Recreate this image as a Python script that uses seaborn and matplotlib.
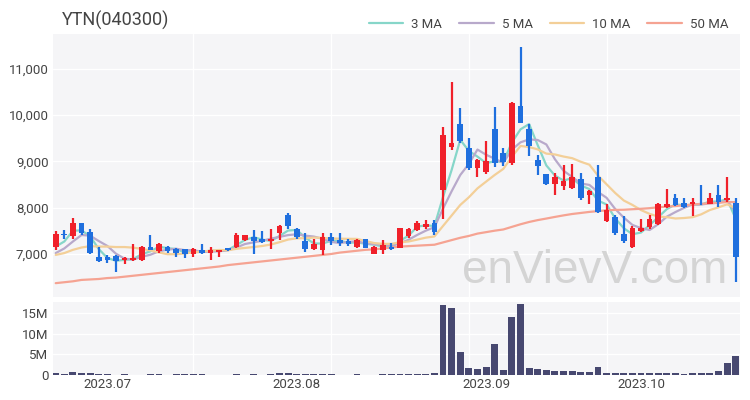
import numpy as np
import pandas as pd
import matplotlib
matplotlib.use("Agg")
import matplotlib.pyplot as plt
import seaborn as sns

# ---------------- data ----------------
opens = [7160, 7430, 7380, 7660, 7470, 6930, 6930, 6950, 6860, 6860,
         6860, 7160, 7070, 7160, 7100, 7100, 7000, 7090, 7030, 7040,
         7120, 7160, 7300, 7360, 7320, 7270, 7450, 7840, 7530, 7290,
         7100, 7090, 7360, 7300, 7290, 7160, 7320, 7000, 7090, 7160,
         7140, 7380, 7520, 7590, 7680, 8380, 9320, 9800, 9280, 8850,
         8780, 9690, 9190, 8960, 10200, 9690, 9030, 8730, 8510, 8470,
         8420, 8610, 8270, 8670, 7720, 7790, 7430, 7160, 7500, 7580,
         7650, 8010, 8200, 8110, 8090, 8090, 8090, 8270, 8170, 8110]
highs = [7490, 7520, 7770, 7680, 7530, 7160, 6980, 6980, 6930, 7220,
         7170, 7410, 7240, 7170, 7140, 7110, 7130, 7220, 7160, 7090,
         7140, 7450, 7420, 7520, 7500, 7530, 7620, 7890, 7560, 7460,
         7320, 7450, 7460, 7460, 7330, 7330, 7330, 7170, 7300, 7240,
         7570, 7570, 7720, 7730, 7730, 9740, 10720, 10150, 9500, 9050,
         9450, 10170, 9280, 10280, 11480, 9810, 9140, 8730, 8740, 8920,
         8940, 8760, 8380, 8920, 8090, 7840, 7810, 7610, 7750, 7840,
         8100, 8400, 8300, 8210, 8220, 8490, 8320, 8490, 8670, 8200]
lows = [7090, 7320, 7330, 7420, 7000, 6830, 6810, 6620, 6790, 6850,
        6850, 7080, 7030, 7030, 6940, 6910, 6940, 7000, 6860, 6940,
        7070, 7130, 7290, 7000, 7230, 7100, 7300, 7530, 7320, 7050,
        7090, 6980, 7190, 7180, 7180, 7130, 7130, 6990, 7000, 7090,
        7130, 7350, 7500, 7530, 7410, 7750, 9250, 9390, 8810, 8670,
        8730, 8870, 8890, 8920, 9820, 9120, 8710, 8490, 8270, 8380,
        8400, 8170, 8080, 7890, 7700, 7410, 7240, 7130, 7480, 7530,
        7620, 7990, 8040, 7990, 7810, 8060, 8080, 8020, 8130, 6400]
closes = [7430, 7400, 7680, 7450, 7020, 6850, 6870, 6840, 6910, 6920,
          7160, 7090, 7220, 7070, 7030, 7000, 7100, 7030, 7090, 7080,
          7090, 7410, 7410, 7270, 7250, 7320, 7600, 7600, 7360, 7100,
          7220, 7360, 7270, 7230, 7220, 7300, 7140, 7160, 7190, 7100,
          7560, 7530, 7680, 7650, 7480, 9570, 9400, 9430, 8850, 9030,
          9010, 8970, 8990, 10270, 9820, 9330, 8900, 8510, 8670, 8580,
          8660, 8200, 8350, 7910, 7950, 7450, 7270, 7560, 7560, 7750,
          8080, 8080, 8060, 8010, 8130, 8070, 8200, 8130, 8220, 6930]
volumes_m = [0.4, 0.3, 0.75, 0.4, 0.45, 0.25, 0.15, 0.1, 0.2, 0.1,
             0.1, 0.15, 0.15, 0.1, 0.15, 0.2, 0.2, 0.15, 0.1, 0.1,
             0.1, 0.15, 0.1, 0.15, 0.1, 0.3, 0.45, 0.6, 0.3, 0.2,
             0.15, 0.25, 0.2, 0.1, 0.1, 0.15, 0.1, 0.1, 0.2, 0.2,
             0.2, 0.15, 0.25, 0.2, 0.45, 17.0, 16.3, 5.6, 1.6, 1.5,
             1.9, 7.4, 1.1, 14.1, 17.2, 1.6, 1.4, 1.2, 1.05, 0.9,
             0.85, 0.7, 0.7, 2.0, 0.6, 0.55, 0.45, 0.45, 0.4, 0.4,
             0.45, 0.5, 0.45, 0.35, 0.4, 0.6, 0.45, 0.9, 2.8, 4.6]

# moving-average values at the left edge (history before the window is not shown)
ma3_head = [7160, 7270]
ma5_head = [7020, 7120, 7270, 7410]
ma10_head = [6980, 7020, 7090, 7140, 7170, 7160, 7160, 7150, 7150]
ma50_head = [6370, 6390, 6410, 6440, 6450, 6460, 6480, 6490, 6510, 6530,
             6550, 6570, 6590, 6610, 6630, 6650, 6670, 6690, 6710, 6730,
             6760, 6780, 6800, 6820, 6840, 6860, 6880, 6900, 6920, 6940,
             6960, 6980, 7000, 7030, 7050, 7070, 7090, 7100, 7120, 7140,
             7160, 7170, 7180, 7190, 7200, 7250, 7300, 7350, 7390]

ma_labels = ["3 MA", "5 MA", "10 MA", "50 MA"]
tick_pos = [6, 28, 50, 68]
tick_labels = ["2023.07", "2023.08", "2023.09", "2023.10"]
title = "YTN(040300)"
watermark = "enVievV.com"

# ---------------- styling ----------------
sns.set_theme(style="white")
plt.rcParams["font.family"] = ["Roboto", "DejaVu Sans"]

RED = "#f0202a"
BLUE = "#1f6fde"
VOLC = "#474870"
BG = "#f5f5f7"
MA_COLORS = ["#86d6c9", "#b8a9cb", "#f3cf98", "#f5a392"]
TXT = "#444444"

n = len(closes)
idx = np.arange(n)
df = pd.DataFrame({"i": idx, "open": opens, "high": highs, "low": lows,
                   "close": closes, "vol": np.array(volumes_m) * 1e6})

def ma(window, head):
    s = df["close"].rolling(window).mean().to_numpy().copy()
    s[:len(head)] = head
    return s

ma_df = pd.concat([
    pd.DataFrame({"i": idx, "value": ma(w, h), "series": lab})
    for w, h, lab in zip([3, 5, 10, 50], [ma3_head, ma5_head, ma10_head, ma50_head], ma_labels)
])

fig = plt.figure(figsize=(7.5, 4.0), dpi=100)
W, H = 750, 400
L, R = 52.7, 740
ax = fig.add_axes([L / W, 1 - 297 / H, (R - L) / W, (297 - 34) / H])
vax = fig.add_axes([L / W, 1 - 375 / H, (R - L) / W, (375 - 302) / H])

for a in (ax, vax):
    a.set_facecolor(BG)
    for s in a.spines.values():
        s.set_visible(False)
    a.tick_params(length=0, labelsize=9.5, labelcolor=TXT, pad=3)
    a.set_axisbelow(True)
    for g in [16, 32, 48, 64]:
        a.axvline(g, color="white", lw=1.0, zorder=0)

# watermark (behind the marks)
ax.text(0.981, 0.053, watermark, transform=ax.transAxes, ha="right", va="baseline",
        fontsize=33, color="#d4d4d4", family=["Liberation Sans", "DejaVu Sans"], zorder=1)

# MA lines
sns.lineplot(data=ma_df, x="i", y="value", hue="series", hue_order=ma_labels,
             palette=MA_COLORS, linewidth=1.6, ax=ax, legend=False, zorder=2)

# candles
up = df["close"] >= df["open"]
cols = np.where(up, RED, BLUE)
body_low = np.minimum(df["open"], df["close"])
body_h = np.maximum(np.abs(df["close"] - df["open"]), 18)
ax.vlines(df["i"], df["low"], df["high"], colors=cols, lw=1.6, zorder=3)
ax.bar(df["i"], body_h, bottom=body_low, width=0.66, color=cols, zorder=4, linewidth=0)

ax.set_xlim(-0.35, n - 0.5)
ax.set_ylim(6071, 11752)
ax.set_yticks([7000, 8000, 9000, 10000, 11000])
ax.set_yticklabels([f"{v:,}" for v in [7000, 8000, 9000, 10000, 11000]])
ax.yaxis.grid(True, color="white", lw=1.0)
ax.set_xticks([])
ax.set_xlabel("")
ax.set_ylabel("")

# volume
sns.barplot(data=df, x="i", y="vol", color=VOLC, width=0.8, native_scale=True,
            ax=vax, zorder=3, linewidth=0, saturation=1)
vax.set_xlim(-0.35, n - 0.5)
vax.set_ylim(0, 17.7e6)
vax.set_yticks([0, 5e6, 10e6, 15e6])
vax.set_yticklabels(["0", "5M", "10M", "15M"])
vax.yaxis.grid(True, color="white", lw=1.0)
vax.set_xticks(tick_pos)
vax.set_xticklabels(tick_labels)
vax.tick_params(axis="x", labelsize=9.5, pad=2)
vax.set_xlabel("")
vax.set_ylabel("")

# title
fig.text(62 / W, 1 - 20 / H, title, fontsize=13, color=TXT, ha="left", va="center")

# legend
from matplotlib.lines import Line2D
handles = [Line2D([0], [0], color=c, lw=1.6) for c in MA_COLORS]
fig.legend(handles, ma_labels, loc="center right", bbox_to_anchor=(740 / W, 1 - 24 / H),
           ncol=4, frameon=False, fontsize=9.5, handlelength=2.6, columnspacing=1.3,
           handletextpad=0.6, labelcolor=TXT)

fig.savefig("out.png", dpi=100)
